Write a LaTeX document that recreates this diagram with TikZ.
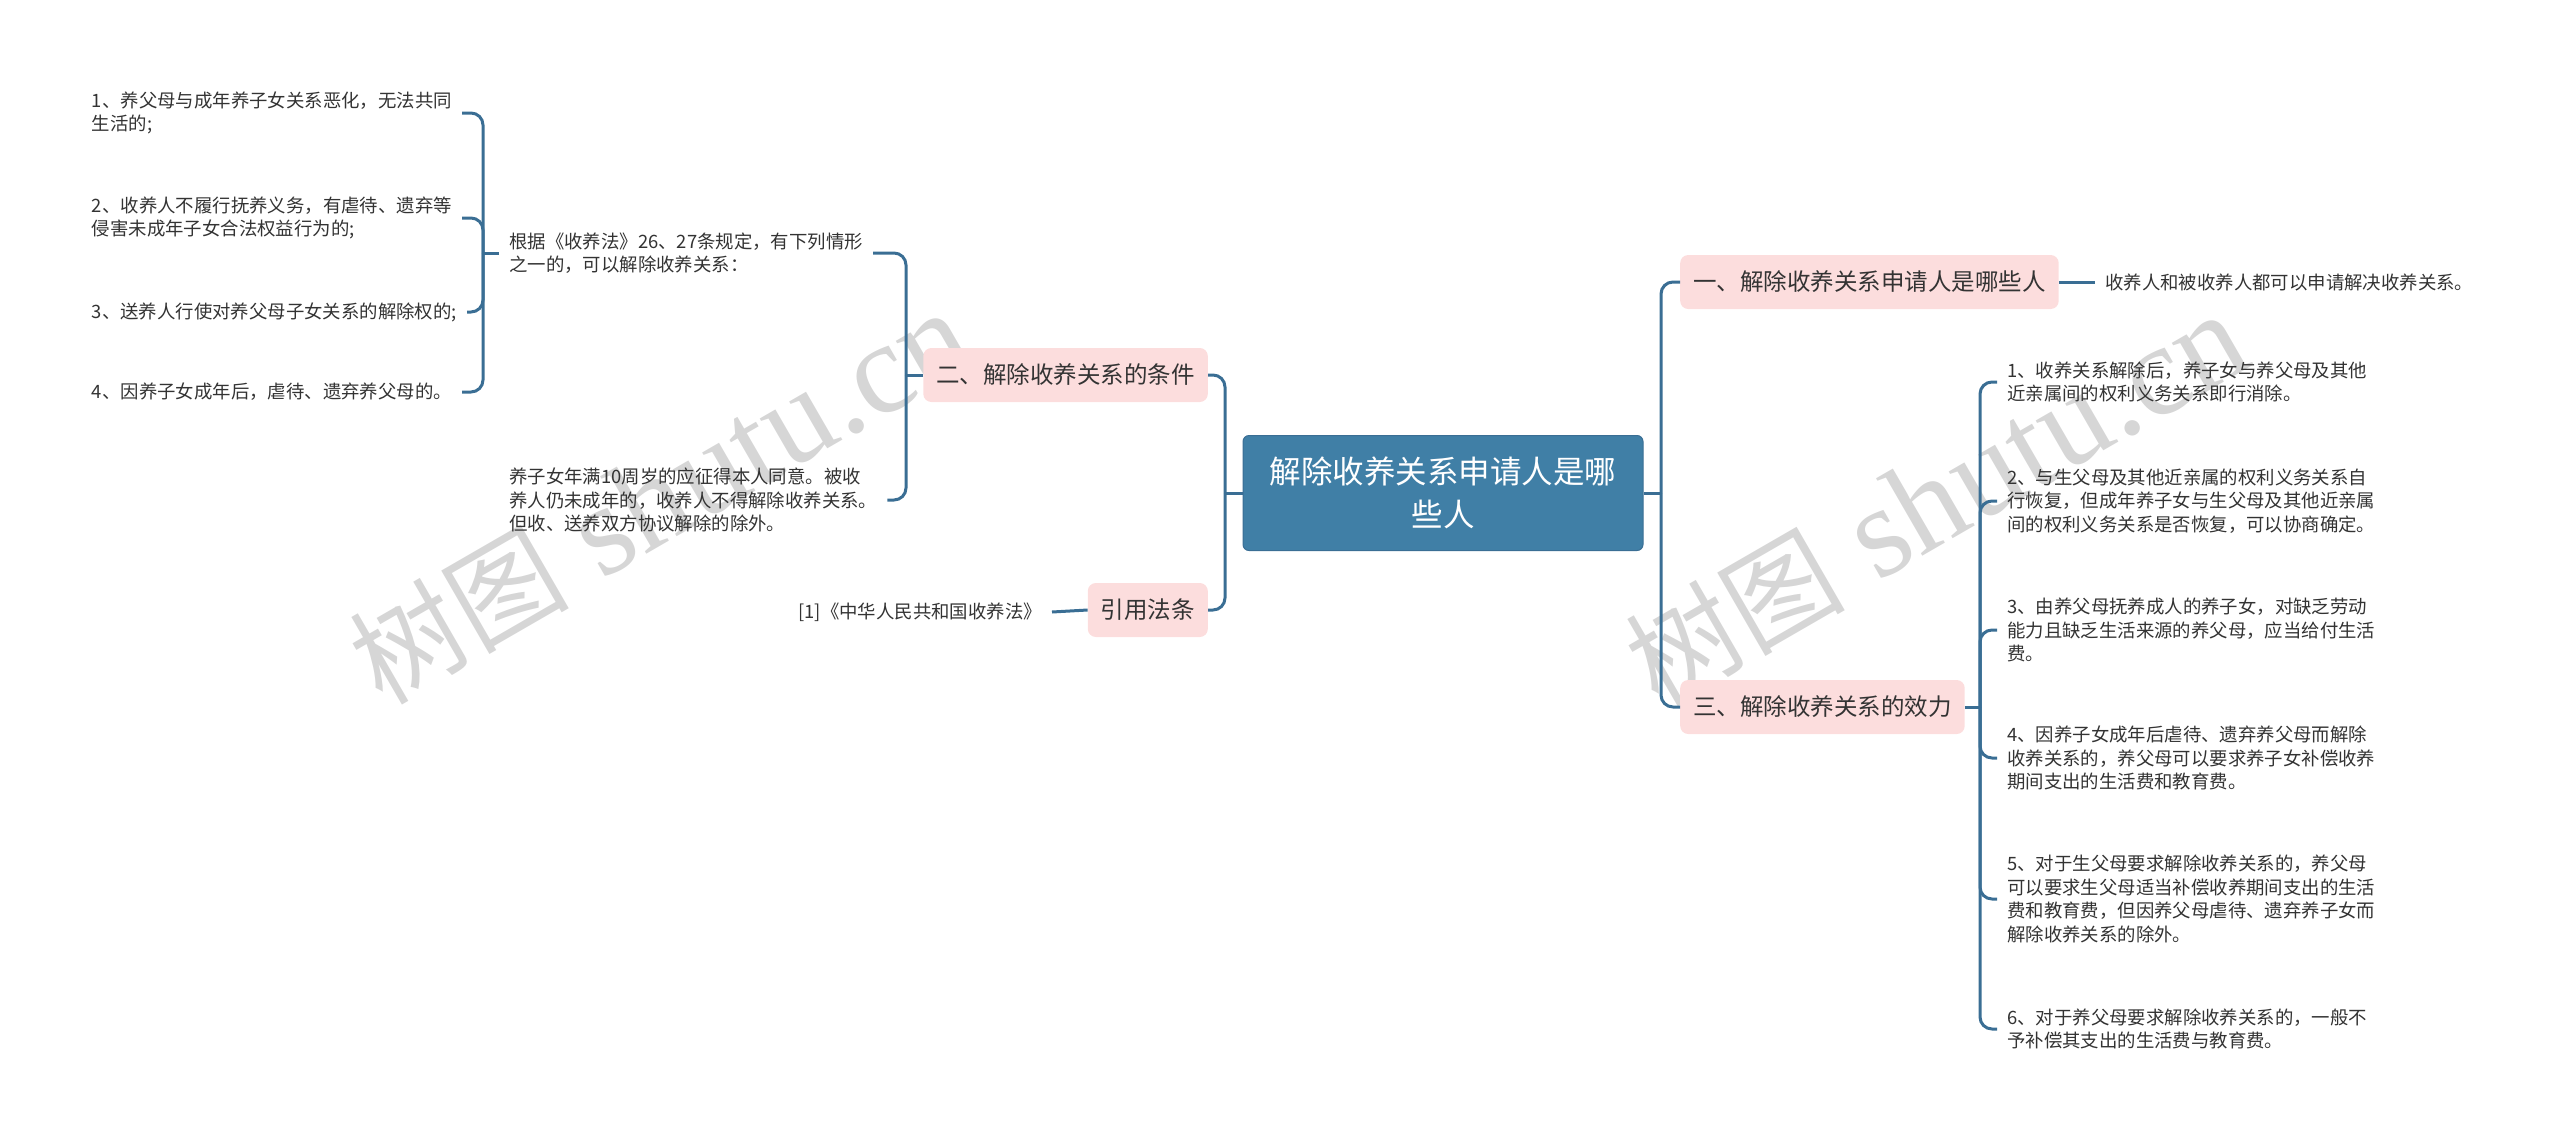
\documentclass[tikz,border=0pt]{standalone}
\usepackage{fontspec}
\setmainfont{Noto Sans CJK SC}
\newfontfamily\wmlatin{Liberation Serif}
\usepackage{tikz}

\definecolor{rootblue}{RGB}{64,127,166}
\definecolor{linkblue}{RGB}{58,110,148}
\definecolor{subpink}{RGB}{252,221,221}
\definecolor{wmgray}{RGB}{214,214,214}
\definecolor{txtgray}{RGB}{51,51,51}

\begin{document}
\begin{tikzpicture}[x=1pt,y=-1pt,
  root/.style={rectangle,rounded corners=6pt,fill=rootblue,draw=linkblue,line width=1pt,text=white,
    font=\fontsize{31.5}{43}\selectfont,align=center,minimum width=400pt,minimum height=115pt,inner sep=0pt},
  topic/.style={rectangle,rounded corners=8pt,fill=subpink,text=txtgray,
    font=\fontsize{23.5}{28}\selectfont,minimum height=54pt,inner xsep=13pt,inner ysep=0pt},
  leaf/.style={text=txtgray,font=\fontsize{18.4}{23.5}\selectfont,align=left,inner xsep=10pt,inner ysep=2pt},
  link/.style={draw=linkblue,line width=3pt,rounded corners=12pt},
  wmark/.style={text=wmgray,font=\fontsize{110}{110}\selectfont,rotate=30}]
  \useasboundingbox (0,0) rectangle (2560,1141);

  % watermarks behind everything
  \node[wmark] at (660,498) (wm1) {树图{\wmlatin\fontsize{130}{130}\selectfont\ shutu.cn}};
  \node[wmark] at (1936,500) (wm2) {树图{\wmlatin\fontsize{130}{130}\selectfont\ shutu.cn}};

  \node[root] at (1443,493) (root) {解除收养关系申请人是哪\\些人};

  % right side
  \node[topic,anchor=west] at (1680,282) (who) {一、解除收养关系申请人是哪些人};
  \node[topic,anchor=west] at (1680,707) (effect) {三、解除收养关系的效力};
  \node[leaf,anchor=west] at (2095,282) (whoA) {收养人和被收养人都可以申请解决收养关系。};
  \node[leaf,anchor=west] at (1997,382) (eff1) {1、收养关系解除后，养子女与养父母及其他\\近亲属间的权利义务关系即行消除。};
  \node[leaf,anchor=west] at (1997,501) (eff2) {2、与生父母及其他近亲属的权利义务关系自\\行恢复，但成年养子女与生父母及其他近亲属\\间的权利义务关系是否恢复，可以协商确定。};
  \node[leaf,anchor=west] at (1997,630) (eff3) {3、由养父母抚养成人的养子女，对缺乏劳动\\能力且缺乏生活来源的养父母，应当给付生活\\费。};
  \node[leaf,anchor=west] at (1997,758) (eff4) {4、因养子女成年后虐待、遗弃养父母而解除\\收养关系的，养父母可以要求养子女补偿收养\\期间支出的生活费和教育费。};
  \node[leaf,anchor=west] at (1997,899) (eff5) {5、对于生父母要求解除收养关系的，养父母\\可以要求生父母适当补偿收养期间支出的生活\\费和教育费，但因养父母虐待、遗弃养子女而\\解除收养关系的除外。};
  \node[leaf,anchor=west] at (1997,1029) (eff6) {6、对于养父母要求解除收养关系的，一般不\\予补偿其支出的生活费与教育费。};

  % left side
  \node[topic,anchor=east] at (1208,375) (cond) {二、解除收养关系的条件};
  \node[topic,anchor=east] at (1208,610) (law) {引用法条};
  \node[leaf,anchor=east] at (1052,612) (lawA) {[1]《中华人民共和国收养法》};
  \node[leaf,anchor=west] at (499,253) (rule) {根据《收养法》26、27条规定，有下列情形\\之一的，可以解除收养关系：};
  \node[leaf,anchor=west] at (499,500) (age) {养子女年满10周岁的应征得本人同意。被收\\养人仍未成年的，收养人不得解除收养关系。\\但收、送养双方协议解除的除外。};
  \node[leaf,anchor=east] at (462,113) (case1) {1、养父母与成年养子女关系恶化，无法共同\\生活的;};
  \node[leaf,anchor=east] at (462,218) (case2) {2、收养人不履行抚养义务，有虐待、遗弃等\\侵害未成年子女合法权益行为的;};
  \node[leaf,anchor=east] at (467,312) (case3) {3、送养人行使对养父母子女关系的解除权的;};
  \node[leaf,anchor=east] at (462,392) (case4) {4、因养子女成年后，虐待、遗弃养父母的。};

  % joints on the trunks
  \coordinate (rjoint) at (1661,493);
  \coordinate (ljoint) at (1225,493);
  \coordinate (ejoint) at (1980,707);
  \coordinate (cjoint) at (906,375);
  \coordinate (rulejoint) at (483,253);

  \draw[link] (root.east) -- (rjoint);
  \draw[link] (rjoint) |- (who.west);
  \draw[link] (rjoint) |- (effect.west);
  \draw[link] (who.east) -- (whoA.west);
  \draw[link] (effect.east) -- (ejoint);
  \draw[link] (ejoint) |- (eff1.west);
  \draw[link] (ejoint) |- (eff2.west);
  \draw[link] (ejoint) |- (eff3.west);
  \draw[link] (ejoint) |- (eff4.west);
  \draw[link] (ejoint) |- (eff5.west);
  \draw[link] (ejoint) |- (eff6.west);

  \draw[link] (root.west) -- (ljoint);
  \draw[link] (ljoint) |- (cond.east);
  \draw[link] (ljoint) |- (law.east);
  \draw[link] (law.west) -- (lawA.east);
  \draw[link] (cond.west) -- (cjoint);
  \draw[link] (cjoint) |- (rule.east);
  \draw[link] (cjoint) |- (age.east);
  \draw[link] (rule.west) -- (rulejoint);
  \draw[link] (rulejoint) |- (case1.east);
  \draw[link] (rulejoint) |- (case2.east);
  \draw[link] (rulejoint) |- (case3.east);
  \draw[link] (rulejoint) |- (case4.east);
\end{tikzpicture}
\end{document}
